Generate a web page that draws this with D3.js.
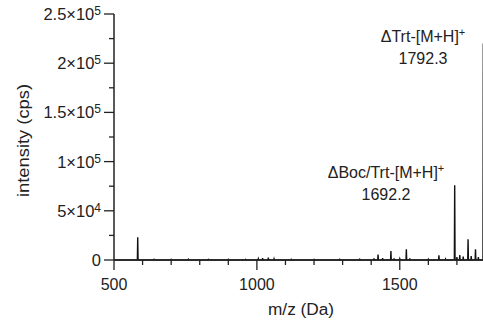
<!DOCTYPE html>
<html><head><meta charset="utf-8">
<script src="https://cdn.jsdelivr.net/npm/d3@7"></script>
<style>
html,body{margin:0;padding:0;background:#fff;overflow:hidden;}
text{font-family:"Liberation Sans",Arial,sans-serif;fill:#222;}
</style></head>
<body><svg id="c" width="483" height="325"></svg>
<script>
// Data (m/z, intensity in cps)
const peakMz =        [583, 640, 700, 760, 830, 900, 960, 1005, 1020, 1040, 1060, 1120, 1200, 1290, 1360, 1410, 1424, 1440, 1469, 1480, 1500, 1523, 1535, 1600, 1637, 1660, 1692.2, 1700, 1710, 1722, 1739, 1750, 1765, 1775, 1792.3];
const peakIntensity = [23000, 600, 500, 700, 500, 600, 500, 1200, 1800, 2500, 1200, 600, 500, 600, 700, 1500, 5500, 2000, 9200, 1500, 1200, 11000, 1500, 800, 4800, 1000, 76000, 3000, 5000, 3500, 21000, 4000, 11000, 3000, 220000];
const yTickValues = [0, 50000, 100000, 150000, 200000, 250000];
const yTickLabels = ["0", "5×10<sup>4</sup>", "1×10<sup>5</sup>", "1.5×10<sup>5</sup>", "2×10<sup>5</sup>", "2.5×10<sup>5</sup>"];
const xTickValues = [500, 1000, 1500];
const annotations = [
  {line1: "ΔTrt-[M+H]", line2: "1792.3", x: 1792.3},
  {line1: "ΔBoc/Trt-[M+H]", line2: "1692.2", x: 1692.2}
];

const svg = d3.select("#c");
const x = d3.scaleLinear().domain([500, 1800]).range([114, 485.5]);
const y = d3.scaleLinear().domain([0, 250000]).range([260, 14]);

// spectrum profile
const pts = [[500, 0]];
peakMz.forEach((m, i) => { pts.push([m - 1.2, 0], [m, peakIntensity[i]], [m + 1.2, 0]); });
pts.push([1800, 0]);
svg.append("path")
  .attr("d", d3.line().x(d => x(d[0])).y(d => y(d[1]))(pts))
  .attr("fill", "none").attr("stroke", "#111").attr("stroke-width", 1.4);

// y axis
const yAxis = svg.append("g").attr("transform", "translate(114,0)");
yAxis.append("line").attr("x1", 0).attr("x2", 0).attr("y1", y(250000)).attr("y2", y(0)).attr("stroke", "#222").attr("stroke-width", 1.5);
d3.range(0, 250001, 25000).forEach(v => {
  const major = v % 50000 === 0;
  yAxis.append("line").attr("x1", major ? -10 : -5).attr("x2", 0).attr("y1", y(v)).attr("y2", y(v)).attr("stroke", "#222").attr("stroke-width", 1.3);
});
yTickValues.forEach((v, i) => {
  const t = yAxis.append("text").attr("x", -13).attr("y", y(v) + 6).attr("text-anchor", "end").attr("font-size", 16.5);
  const parts = yTickLabels[i].match(/^(.*?)(?:<sup>(.*)<\/sup>)?$/);
  t.append("tspan").text(parts[1]);
  if (parts[2]) t.append("tspan").attr("dy", -5).attr("font-size", 12).text(parts[2]);
});

// x axis
const xAxis = svg.append("g").attr("transform", "translate(0,260)");
xAxis.append("line").attr("x1", 114).attr("x2", 483).attr("y1", 0).attr("y2", 0).attr("stroke", "#222").attr("stroke-width", 1.5);
d3.range(500, 1801, 100).forEach(v => {
  const major = v % 500 === 0;
  xAxis.append("line").attr("x1", x(v)).attr("x2", x(v)).attr("y1", 0).attr("y2", major ? 10 : 5).attr("stroke", "#222").attr("stroke-width", 1.3);
});
xTickValues.forEach(v => {
  xAxis.append("text").attr("x", x(v)).attr("y", 30).attr("text-anchor", "middle").attr("font-size", 16).text(v);
});

// axis titles
svg.append("text").attr("x", 301).attr("y", 315).attr("text-anchor", "middle").attr("font-size", 16)
  .attr("textLength", 66).attr("lengthAdjust", "spacingAndGlyphs").text("m/z (Da)");
svg.append("text").attr("transform", "translate(28.5,140.5) rotate(-90)").attr("text-anchor", "middle").attr("font-size", 16)
  .attr("textLength", 113).attr("lengthAdjust", "spacingAndGlyphs").text("intensity (cps)");

// annotations
const annPos = [[423, 42, 64], [386, 178, 200]];
annotations.forEach((a, i) => {
  const t = svg.append("text").attr("x", annPos[i][0]).attr("y", annPos[i][1]).attr("text-anchor", "middle").attr("font-size", 16);
  t.append("tspan").text(a.line1);
  t.append("tspan").attr("dy", -6).attr("font-size", 11).text("+");
  svg.append("text").attr("x", annPos[i][0]).attr("y", annPos[i][2]).attr("text-anchor", "middle").attr("font-size", 16).text(a.line2);
});
</script></body></html>
